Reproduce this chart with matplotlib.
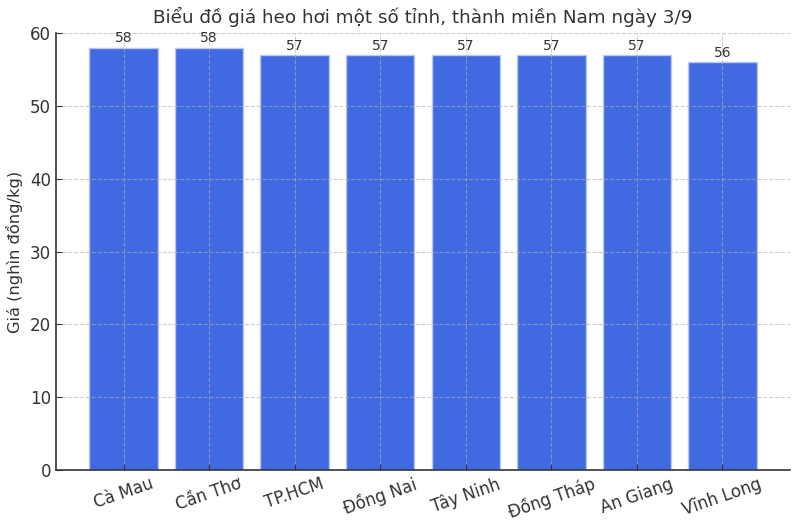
import matplotlib
matplotlib.use("Agg")
from matplotlib import pyplot as plt

# du lieu gia heo hoi 3/9
provinces = ["Cà Mau", "Cần Thơ", "TP.HCM", "Đồng Nai", "Tây Ninh",
             "Đồng Tháp", "An Giang", "Vĩnh Long"]
prices = [58, 58, 57, 57, 57, 57, 57, 56]

txt = "#333333"
plt.rcParams['font.family'] = ['DejaVu Sans']

fig = plt.figure(figsize=(8, 5.3), dpi=100)
ax = fig.add_axes([0.07, 0.1132, 0.9175, 0.8245])

bars = ax.bar(provinces, prices, width=0.8, color="#4169E1",
              edgecolor="#b9c7f3", linewidth=1)

for b, v in zip(bars, prices):
    ax.text(b.get_x() + b.get_width() / 2, v + 0.3, str(v),
            ha="center", va="bottom", fontsize=10, color=txt)

ax.set_ylim(0, 60)
ax.set_title("Biểu đồ giá heo hơi một số tỉnh, thành miền Nam ngày 3/9",
             fontsize=13.2, color=txt, pad=7)
ax.set_ylabel("Giá (nghìn đồng/kg)", fontsize=11.7, color=txt, labelpad=5)

ax.grid(True, linestyle="--", color="#b0b0b0", alpha=0.6, linewidth=0.8)
ax.set_axisbelow(False)

for s in ["top", "right"]:
    ax.spines[s].set_visible(False)
for s in ["left", "bottom"]:
    ax.spines[s].set_color(txt)
    ax.spines[s].set_linewidth(1.2)

ax.tick_params(axis="both", colors=txt, labelsize=12, length=4, direction="in")
plt.setp(ax.get_xticklabels(), rotation=19, ha="center")

fig.savefig("out.png", dpi=100)
